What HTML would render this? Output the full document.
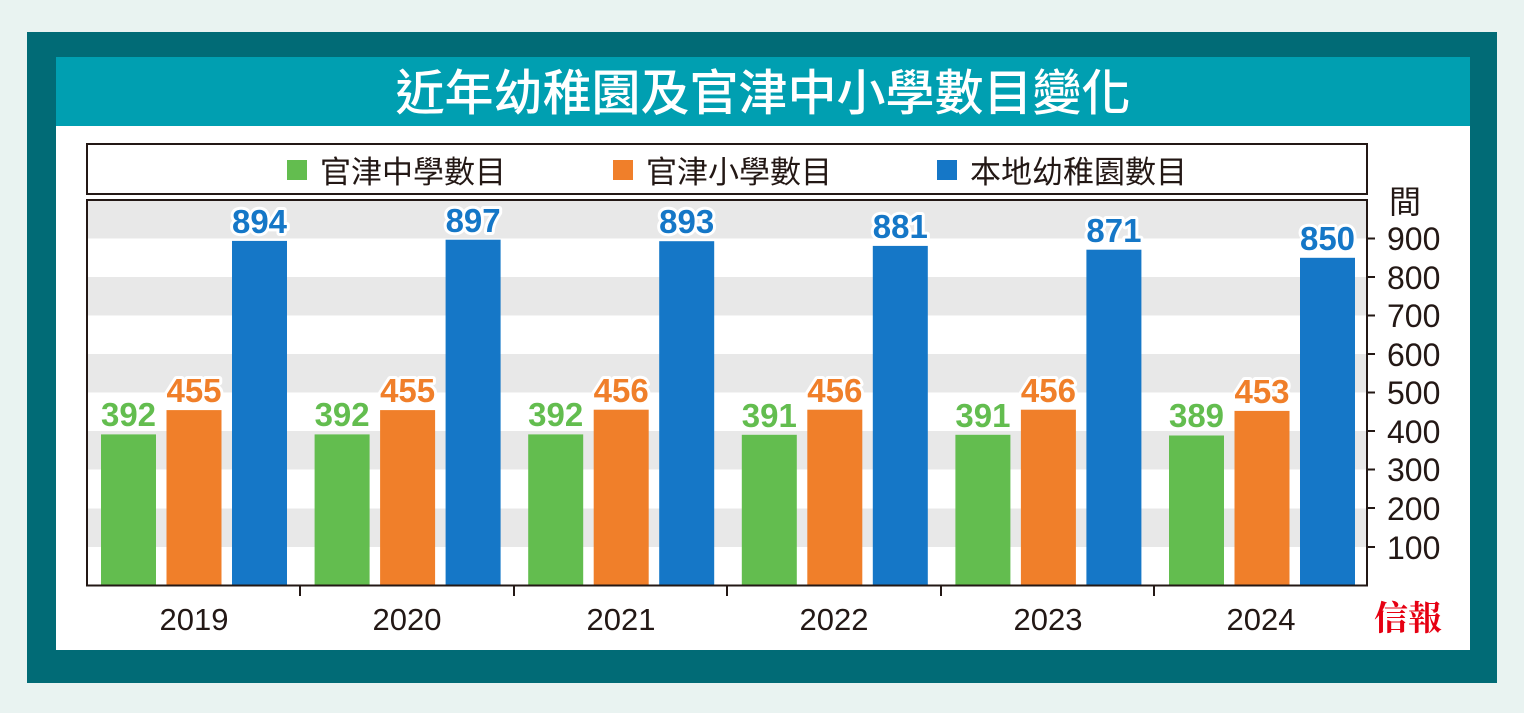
<!DOCTYPE html>
<html><head><meta charset="utf-8"><style>
html,body{margin:0;padding:0;background:#e9f3f1;}
svg{display:block}
.l{font-size:33px;font-weight:bold;stroke:#fff;stroke-width:6px;paint-order:stroke;stroke-linejoin:round;text-anchor:middle}
.g{fill:#63bd4f}.o{fill:#f07f2a}.b{fill:#1577c7}
</style></head><body>
<svg width="1524" height="713" xmlns="http://www.w3.org/2000/svg" font-family="Liberation Sans, Noto Sans CJK TC, sans-serif">
<rect x="0" y="0" width="1524" height="713" fill="#e9f3f1"/>
<rect x="27" y="32" width="1470" height="651" fill="#016b76"/>
<rect x="56" y="57" width="1414" height="593" fill="#ffffff"/>
<rect x="56" y="57" width="1414" height="69" fill="#009fb1"/>
<text x="763" y="110" text-anchor="middle" font-size="49" fill="#fff" font-weight="500">近年幼稚園及官津中小學數目變化</text>
<rect x="87" y="144" width="1280" height="50" fill="#fff" stroke="#231815" stroke-width="2"/>
<rect x="287" y="160" width="20" height="20" fill="#63bd4f"/>
<text x="320" y="183" font-size="31" fill="#231815">官津中學數目</text>
<rect x="613" y="160" width="20" height="20" fill="#f07f2a"/>
<text x="646" y="183" font-size="31" fill="#231815">官津小學數目</text>
<rect x="937" y="160" width="20" height="20" fill="#1577c7"/>
<text x="970" y="183" font-size="31" fill="#231815">本地幼稚園數目</text>
<g fill="#e8e8e8">
<rect x="88" y="200" width="1278" height="38.5"/>
<rect x="88" y="277" width="1278" height="38.5"/>
<rect x="88" y="354" width="1278" height="38.5"/>
<rect x="88" y="431" width="1278" height="38.5"/>
<rect x="88" y="508.5" width="1278" height="38.5"/>
</g>
<g>
<rect class="g" x="101" y="434.4" width="55" height="151.1"/>
<rect class="o" x="166.5" y="410.1" width="55" height="175.4"/>
<rect class="b" x="232" y="240.9" width="55" height="344.6"/>
<rect class="g" x="314.6" y="434.4" width="55" height="151.1"/>
<rect class="o" x="380.1" y="410.1" width="55" height="175.4"/>
<rect class="b" x="445.6" y="239.7" width="55" height="345.8"/>
<rect class="g" x="528.2" y="434.4" width="55" height="151.1"/>
<rect class="o" x="593.7" y="409.7" width="55" height="175.8"/>
<rect class="b" x="659.2" y="241.2" width="55" height="344.3"/>
<rect class="g" x="741.8" y="434.8" width="55" height="150.7"/>
<rect class="o" x="807.3" y="409.7" width="55" height="175.8"/>
<rect class="b" x="872.8" y="245.9" width="55" height="339.6"/>
<rect class="g" x="955.4" y="434.8" width="55" height="150.7"/>
<rect class="o" x="1020.9" y="409.7" width="55" height="175.8"/>
<rect class="b" x="1086.4" y="249.7" width="55" height="335.8"/>
<rect class="g" x="1169" y="435.5" width="55" height="150"/>
<rect class="o" x="1234.5" y="410.9" width="55" height="174.6"/>
<rect class="b" x="1300" y="257.8" width="55" height="327.7"/>
</g>
<g>
<text class="l g" x="128.5" y="426">392</text>
<text class="l o" x="194" y="402">455</text>
<text class="l b" x="259.5" y="233">894</text>
<text class="l g" x="342.1" y="426">392</text>
<text class="l o" x="407.6" y="402">455</text>
<text class="l b" x="473.1" y="232">897</text>
<text class="l g" x="555.7" y="426">392</text>
<text class="l o" x="621.2" y="402">456</text>
<text class="l b" x="686.7" y="233">893</text>
<text class="l g" x="769.3" y="427">391</text>
<text class="l o" x="834.8" y="402">456</text>
<text class="l b" x="900.3" y="238">881</text>
<text class="l g" x="982.9" y="427">391</text>
<text class="l o" x="1048.4" y="402">456</text>
<text class="l b" x="1113.9" y="242">871</text>
<text class="l g" x="1196.5" y="427">389</text>
<text class="l o" x="1262" y="403">453</text>
<text class="l b" x="1327.5" y="250">850</text>
</g>
<rect x="87" y="200" width="1280" height="385.5" fill="none" stroke="#231815" stroke-width="2"/>
<g stroke="#231815" stroke-width="2">
<line x1="1367" y1="238.5" x2="1375" y2="238.5"/><line x1="1367" y1="277" x2="1375" y2="277"/>
<line x1="1367" y1="315.5" x2="1375" y2="315.5"/><line x1="1367" y1="354" x2="1375" y2="354"/>
<line x1="1367" y1="392.5" x2="1375" y2="392.5"/><line x1="1367" y1="431" x2="1375" y2="431"/>
<line x1="1367" y1="469.5" x2="1375" y2="469.5"/><line x1="1367" y1="508" x2="1375" y2="508"/>
<line x1="1367" y1="547" x2="1375" y2="547"/>
<line x1="300" y1="585" x2="300" y2="596"/><line x1="514" y1="585" x2="514" y2="596"/>
<line x1="727" y1="585" x2="727" y2="596"/><line x1="941" y1="585" x2="941" y2="596"/>
<line x1="1154" y1="585" x2="1154" y2="596"/>
</g>
<g font-size="32" fill="#231815">
<text x="1389" y="213">間</text>
<text x="1387" y="250">900</text><text x="1387" y="289">800</text><text x="1387" y="327">700</text>
<text x="1387" y="366">600</text><text x="1387" y="404">500</text><text x="1387" y="443">400</text>
<text x="1387" y="481">300</text><text x="1387" y="520">200</text><text x="1387" y="559">100</text>
</g>
<g font-size="31" fill="#231815" text-anchor="middle">
<text x="194" y="630">2019</text><text x="407" y="630">2020</text><text x="621" y="630">2021</text>
<text x="834" y="630">2022</text><text x="1048" y="630">2023</text><text x="1261" y="630">2024</text>
</g>
<text x="1408" y="630" text-anchor="middle" font-size="34" font-weight="bold" fill="#e60012" font-family="Noto Serif CJK SC, serif">信報</text>
</svg>
</body></html>
